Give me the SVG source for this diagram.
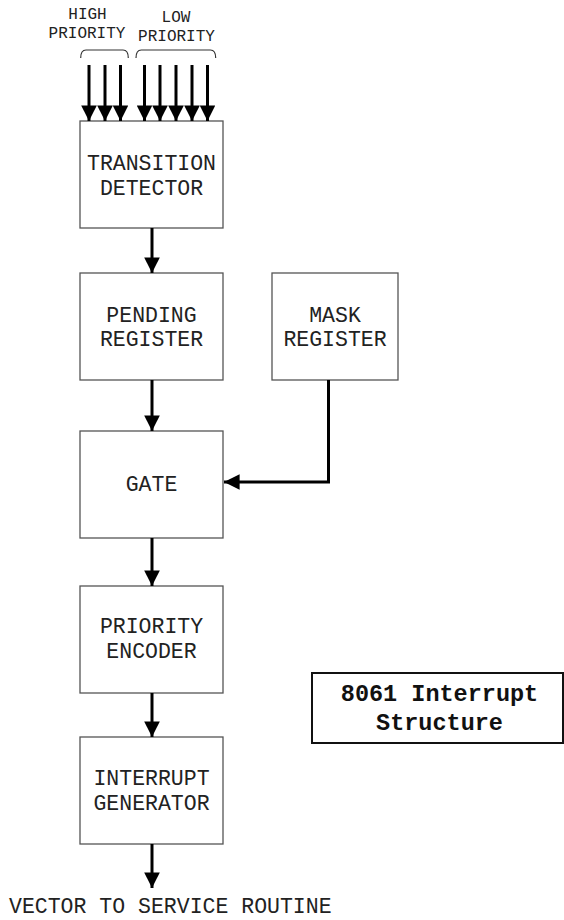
<svg xmlns="http://www.w3.org/2000/svg" width="564" height="920" viewBox="0 0 564 920">
<defs>
<marker id="ah" markerWidth="5.2" markerHeight="5.2" refX="5.2" refY="2.6" orient="auto" markerUnits="strokeWidth">
<path d="M0,0 L5.2,2.6 L0,5.2 Z" fill="#000"/>
</marker>
<style>
.box{fill:#fff;stroke:#555;stroke-width:1.3}
.lbl{font-family:"Liberation Mono","Courier New",monospace;font-size:21.5px;fill:#222;text-anchor:middle}
.sm{font-family:"Liberation Mono","Courier New",monospace;font-size:16px;fill:#222;text-anchor:middle}
.conn{fill:none;stroke:#000;stroke-width:3;marker-end:url(#ah)}
.brace{fill:none;stroke:#333;stroke-width:1.2}
.title{font-family:"Liberation Mono","Courier New",monospace;font-size:23.5px;font-weight:bold;fill:#111;text-anchor:middle}
</style>
</defs>
<rect width="564" height="920" fill="#fff"/>

<g id="labels-top">
<text class="sm" x="87.5" y="19">HIGH</text>
<text class="sm" x="87" y="38">PRIORITY</text>
<text class="sm" x="176" y="22">LOW</text>
<text class="sm" x="176.5" y="41">PRIORITY</text>
<path class="brace" d="M80.7,58 Q80.7,50 86,50 L123,50 Q128.3,50 128.3,58"/>
<path class="brace" d="M136,58 Q136,50 141.3,50 L210.4,50 Q215.7,50 215.7,58"/>
</g>

<g id="transition-detector">
<rect class="box" x="80" y="121" width="143" height="107"/>
<text class="lbl" x="151.5" y="170">TRANSITION</text>
<text class="lbl" x="151.5" y="195">DETECTOR</text>
</g>
<g id="pending-register">
<rect class="box" x="80" y="273" width="143" height="107"/>
<text class="lbl" x="151.5" y="322">PENDING</text>
<text class="lbl" x="151.5" y="346">REGISTER</text>
</g>
<g id="mask-register">
<rect class="box" x="272" y="273" width="126" height="107"/>
<text class="lbl" x="335" y="322">MASK</text>
<text class="lbl" x="335" y="346">REGISTER</text>
</g>
<g id="gate">
<rect class="box" x="80" y="431" width="143" height="107"/>
<text class="lbl" x="151.5" y="491">GATE</text>
</g>
<g id="priority-encoder">
<rect class="box" x="80" y="586" width="143" height="107"/>
<text class="lbl" x="151.5" y="633">PRIORITY</text>
<text class="lbl" x="151.5" y="658">ENCODER</text>
</g>
<g id="interrupt-generator">
<rect class="box" x="80" y="737" width="143" height="107"/>
<text class="lbl" x="151.5" y="785">INTERRUPT</text>
<text class="lbl" x="151.5" y="810">GENERATOR</text>
</g>
<g id="title">
<rect x="312" y="673" width="251" height="70" fill="#fff" stroke="#111" stroke-width="2"/>
<text class="title" x="439.5" y="701">8061 Interrupt</text>
<text class="title" x="439.5" y="730">Structure</text>
</g>
<g id="output-label">
<text class="lbl" x="9" y="913" style="text-anchor:start">VECTOR TO SERVICE ROUTINE</text>
</g>

<g id="connectors">
<path class="conn" d="M89,65 V121"/>
<path class="conn" d="M105,65 V121"/>
<path class="conn" d="M120.5,65 V121"/>
<path class="conn" d="M144.5,65 V121"/>
<path class="conn" d="M160,65 V121"/>
<path class="conn" d="M176,65 V121"/>
<path class="conn" d="M192,65 V121"/>
<path class="conn" d="M207.5,65 V121"/>
<path class="conn" d="M152,228 V273"/>
<path class="conn" d="M152,380 V431"/>
<path class="conn" d="M328.5,380 V482 H224"/>
<path class="conn" d="M152,538 V586"/>
<path class="conn" d="M152,693 V737"/>
<path class="conn" d="M152,844 V888"/>
</g>
</svg>
